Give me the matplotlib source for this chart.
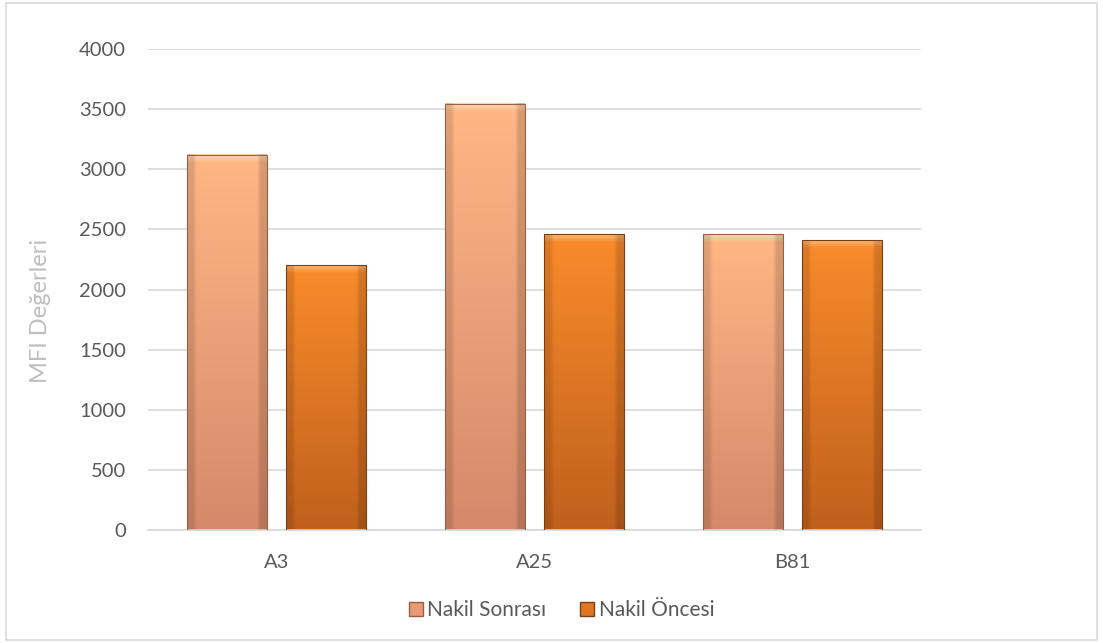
import matplotlib.pyplot as plt
import numpy as np
from matplotlib.patches import Patch, Rectangle
from matplotlib.colors import to_rgb

plt.rcParams['font.family'] = ['Lato', 'DejaVu Sans']

categories = ["A3", "A25", "B81"]
nakil_sonrasi = [3120, 3545, 2460]
nakil_oncesi = [2200, 2460, 2410]
series_names = ["Nakil Sonrası", "Nakil Öncesi"]

# top / bottom colours for the gradient fill
light_top, light_bot = "#FFB785", "#D4896A"
dark_top, dark_bot = "#F98B2B", "#C0601C"
light_edge, dark_edge = "#9A5E48", "#7A3E12"


def grad_fill(ax, patch, top, bot, highlight, bevel=65):
    x0 = patch.get_x()
    w = patch.get_width()
    h = patch.get_height()
    n = 300
    vals = np.linspace(h, 0, n)  # row 0 = top
    t = (vals / h)[:, None]
    c = np.array(to_rgb(bot)) * (1 - t) + np.array(to_rgb(top)) * t
    hl = np.array(to_rgb(highlight))
    near = np.clip((vals - (h - bevel)) / bevel, 0, 1)[:, None]
    c = c * (1 - near * 0.75) + hl * near * 0.75
    img = np.repeat(c[:, None, :], 20, axis=1)
    # darker side shading
    side = np.ones(20)
    side[:2] = 0.88
    side[-2:] = 0.85
    img = img * side[None, :, None]
    ax.imshow(img, extent=[x0, x0 + w, 0, h], aspect='auto', zorder=2,
              interpolation='bilinear')
    patch.set_facecolor('none')
    patch.set_zorder(3)


fig = plt.figure(figsize=(11.03, 6.43), dpi=100)
ax = fig.add_axes([0.1342, 0.1757, 0.7008, 0.7481])

x = np.arange(len(categories))
w = 0.31
gap = 0.074
b1 = ax.bar(x - (w + gap) / 2, nakil_sonrasi, w, edgecolor=light_edge, linewidth=0.8)
b2 = ax.bar(x + (w + gap) / 2, nakil_oncesi, w, edgecolor=dark_edge, linewidth=0.8)
for p in b1:
    grad_fill(ax, p, light_top, light_bot, "#FFE7BE")
for p in b2:
    grad_fill(ax, p, dark_top, dark_bot, "#FFC58A")

ax.set_xlim(-0.5, len(categories) - 0.5)
ax.set_ylim(0, 4000)
ax.set_yticks(range(0, 4001, 500))
ax.set_xticks(x)
ax.set_xticklabels(categories)
ax.yaxis.grid(True, color="#D9D9D9", linewidth=1.2, zorder=0)
ax.set_axisbelow(True)
for s in ["top", "right", "left"]:
    ax.spines[s].set_visible(False)
ax.spines["bottom"].set_color("#D9D9D9")
ax.spines["bottom"].set_linewidth(1.2)
ax.tick_params(length=0, labelsize=14.5, colors="#595959")
ax.tick_params(axis='x', pad=17)
ax.tick_params(axis='y', pad=16)
ax.set_ylabel("MFI Değerleri", fontsize=17, color="#BFBFBF")
ax.yaxis.set_label_coords(-0.126, 0.455, transform=ax.transAxes)

handles = [Patch(facecolor="#E89A70", edgecolor=light_edge),
           Patch(facecolor="#E07624", edgecolor=dark_edge)]
fig.legend(handles, series_names, loc="center", bbox_to_anchor=(0.509, 0.051),
           ncol=2, frameon=False, fontsize=15, labelcolor="#595959",
           handlelength=0.7, handleheight=0.7, handletextpad=0.2,
           columnspacing=1.6)

fig.add_artist(Rectangle((0.005, 0.004), 0.99, 0.992, transform=fig.transFigure,
                         fill=False, edgecolor="#D9D9D9", linewidth=1.2))

fig.savefig("out.png", dpi=100)
